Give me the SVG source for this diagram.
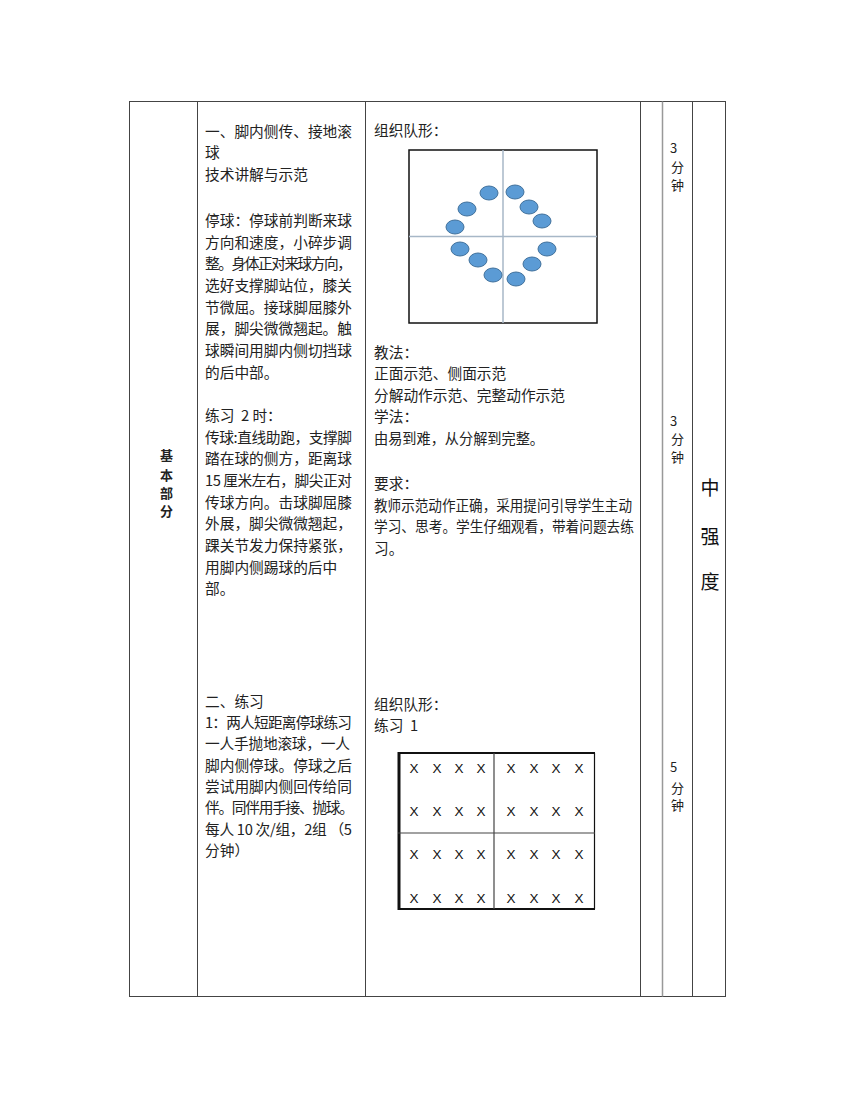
<svg xmlns="http://www.w3.org/2000/svg" width="860" height="1113" viewBox="0 0 860 1113">
<style>
.t{font-family:"Noto Sans CJK SC","Noto Sans",sans-serif;font-size:14.7px;fill:#222}
.s{font-family:"Noto Sans CJK SC","Noto Sans",sans-serif;font-size:13px;fill:#222}
.b{font-family:"Noto Sans CJK SC","Noto Sans",sans-serif;font-size:13px;font-weight:bold;fill:#222}
.big{font-family:"Noto Sans CJK SC","Noto Sans",sans-serif;font-size:19px;fill:#111}
.x{font-family:"Liberation Sans","DejaVu Sans",sans-serif;font-size:13.5px;fill:#111;text-anchor:middle}
.grid{stroke:#444;stroke-width:1;fill:none}
.ell{fill:#5b9bd5;stroke:#41719c;stroke-width:1}
</style>
<rect width="860" height="1113" fill="#fff"/>
<g id="table">
<rect class="grid" x="129.5" y="101.5" width="596" height="895"/>
<line class="grid" x1="197.5" y1="101.5" x2="197.5" y2="996.5"/>
<line class="grid" x1="365.5" y1="101.5" x2="365.5" y2="996.5"/>
<line class="grid" x1="640.5" y1="101.5" x2="640.5" y2="996.5"/>
<line x1="662.5" y1="101.5" x2="662.5" y2="996.5" stroke="#999" stroke-width="1.5"/>
<line class="grid" x1="692.5" y1="101.5" x2="692.5" y2="996.5"/>
</g>
<g id="section-label">
<text class="b" x="160" y="460">基</text>
<text class="b" x="160" y="480">本</text>
<text class="b" x="160" y="498">部</text>
<text class="b" x="160" y="516">分</text>
</g>
<g id="content-left">
<text class="t" x="205" y="136.5" textLength="147" lengthAdjust="spacing">一、脚内侧传、接地滚</text>
<text class="t" x="205" y="158">球</text>
<text class="t" x="205" y="180">技术讲解与示范</text>
<text class="t" x="205" y="226" textLength="147" lengthAdjust="spacing">停球：停球前判断来球</text>
<text class="t" x="205" y="247.6" textLength="147" lengthAdjust="spacing">方向和速度，小碎步调</text>
<text class="t" x="205" y="269.3" textLength="147" lengthAdjust="spacing">整。身体正对来球方向，</text>
<text class="t" x="205" y="291" textLength="147" lengthAdjust="spacing">选好支撑脚站位，膝关</text>
<text class="t" x="205" y="312.6" textLength="147" lengthAdjust="spacing">节微屈。接球脚屈膝外</text>
<text class="t" x="205" y="334.3" textLength="147" lengthAdjust="spacing">展，脚尖微微翘起。触</text>
<text class="t" x="205" y="356" textLength="147" lengthAdjust="spacing">球瞬间用脚内侧切挡球</text>
<text class="t" x="205" y="377.6">的后中部。</text>
<text class="t" x="205" y="421" xml:space="preserve">练习  2 时：</text>
<text class="t" x="205" y="442.6" textLength="147" lengthAdjust="spacing">传球:直线助跑，支撑脚</text>
<text class="t" x="205" y="464.3" textLength="147" lengthAdjust="spacing">踏在球的侧方，距离球</text>
<text class="t" x="205" y="486" textLength="147" lengthAdjust="spacing">15 厘米左右，脚尖正对</text>
<text class="t" x="205" y="507.6" textLength="147" lengthAdjust="spacing">传球方向。击球脚屈膝</text>
<text class="t" x="205" y="529.3">外展，脚尖微微翘起，</text>
<text class="t" x="205" y="551">踝关节发力保持紧张，</text>
<text class="t" x="205" y="572.6">用脚内侧踢球的后中</text>
<text class="t" x="205" y="594.3">部。</text>
</g>
<g id="content-left-2">
<text class="t" x="205" y="706.5">二、练习</text>
<text class="t" x="205" y="728" textLength="147" lengthAdjust="spacing">1：两人短距离停球练习</text>
<text class="t" x="205" y="749" textLength="145" lengthAdjust="spacing">一人手抛地滚球，一人</text>
<text class="t" x="205" y="770.5" textLength="147" lengthAdjust="spacing">脚内侧停球。停球之后</text>
<text class="t" x="205" y="792" textLength="147" lengthAdjust="spacing">尝试用脚内侧回传给同</text>
<text class="t" x="205" y="813" textLength="149" lengthAdjust="spacing">伴。同伴用手接、抛球。</text>
<text class="t" x="205" y="834.5" textLength="147" lengthAdjust="spacing">每人 10 次/组，2组 （5</text>
<text class="t" x="205" y="856">分钟）</text>
</g>
<g id="content-mid">
<text class="t" x="374" y="136">组织队形：</text>
<text class="t" x="374" y="358">教法：</text>
<text class="t" x="374" y="379">正面示范、侧面示范</text>
<text class="t" x="374" y="401">分解动作示范、完整动作示范</text>
<text class="t" x="374" y="422">学法：</text>
<text class="t" x="374" y="444" textLength="170" lengthAdjust="spacingAndGlyphs">由易到难，从分解到完整。</text>
<text class="t" x="374" y="489">要求：</text>
<text class="t" x="374" y="511" textLength="258" lengthAdjust="spacingAndGlyphs">教师示范动作正确，采用提问引导学生主动</text>
<text class="t" x="374" y="532" textLength="260" lengthAdjust="spacingAndGlyphs">学习、思考。学生仔细观看，带着问题去练</text>
<text class="t" x="374" y="554">习。</text>
</g>
<g id="formation-1">
<rect x="409" y="150" width="188" height="173" fill="#fff" stroke="#111" stroke-width="1.5"/>
<line x1="503" y1="150" x2="503" y2="323" stroke="#a7b7c7" stroke-width="1.5"/>
<line x1="409" y1="236.5" x2="597" y2="236.5" stroke="#a7b7c7" stroke-width="1.5"/>
<ellipse class="ell" cx="489" cy="193" rx="9" ry="7"/>
<ellipse class="ell" cx="515" cy="192" rx="9" ry="7"/>
<ellipse class="ell" cx="467" cy="209" rx="9" ry="7"/>
<ellipse class="ell" cx="529" cy="207" rx="9" ry="7"/>
<ellipse class="ell" cx="542" cy="221" rx="9" ry="7"/>
<ellipse class="ell" cx="455" cy="227" rx="9" ry="7"/>
<ellipse class="ell" cx="460" cy="249" rx="9" ry="7"/>
<ellipse class="ell" cx="547" cy="249" rx="9" ry="7"/>
<ellipse class="ell" cx="478" cy="260" rx="9" ry="7"/>
<ellipse class="ell" cx="532" cy="264" rx="9" ry="7"/>
<ellipse class="ell" cx="493" cy="275" rx="9" ry="7"/>
<ellipse class="ell" cx="516" cy="279" rx="9" ry="7"/>
</g>
<g id="content-mid-2">
<text class="t" x="374" y="709.5">组织队形：</text>
<text class="t" x="374" y="731" xml:space="preserve">练习  1</text>
</g>
<g id="formation-2">
<line x1="398" y1="753" x2="595" y2="753" stroke="#111" stroke-width="2"/>
<line x1="398" y1="909" x2="595" y2="909" stroke="#111" stroke-width="2"/>
<line x1="399" y1="752" x2="399" y2="910" stroke="#111" stroke-width="3"/>
<line x1="594.5" y1="753" x2="594.5" y2="909" stroke="#111" stroke-width="1.2"/>
<line x1="494" y1="753" x2="494" y2="909" stroke="#444" stroke-width="1.2"/>
<line x1="398" y1="833" x2="595" y2="833" stroke="#444" stroke-width="1.2"/>
<g>
<text class="x" x="414" y="773">X</text><text class="x" x="437" y="773">X</text><text class="x" x="459" y="773">X</text><text class="x" x="481" y="773">X</text>
<text class="x" x="511" y="773">X</text><text class="x" x="534" y="773">X</text><text class="x" x="556" y="773">X</text><text class="x" x="579" y="773">X</text>
<text class="x" x="414" y="816">X</text><text class="x" x="437" y="816">X</text><text class="x" x="459" y="816">X</text><text class="x" x="481" y="816">X</text>
<text class="x" x="511" y="816">X</text><text class="x" x="534" y="816">X</text><text class="x" x="556" y="816">X</text><text class="x" x="579" y="816">X</text>
<text class="x" x="414" y="859">X</text><text class="x" x="437" y="859">X</text><text class="x" x="459" y="859">X</text><text class="x" x="481" y="859">X</text>
<text class="x" x="511" y="859">X</text><text class="x" x="534" y="859">X</text><text class="x" x="556" y="859">X</text><text class="x" x="579" y="859">X</text>
<text class="x" x="414" y="903">X</text><text class="x" x="437" y="903">X</text><text class="x" x="459" y="903">X</text><text class="x" x="481" y="903">X</text>
<text class="x" x="511" y="903">X</text><text class="x" x="534" y="903">X</text><text class="x" x="556" y="903">X</text><text class="x" x="579" y="903">X</text>
</g>
</g>
<g id="time">
<text class="s" x="670" y="153">3</text>
<text class="s" x="671" y="172">分</text>
<text class="s" x="671" y="190">钟</text>
<text class="s" x="670" y="426">3</text>
<text class="s" x="671" y="444">分</text>
<text class="s" x="671" y="462">钟</text>
<text class="s" x="670" y="772">5</text>
<text class="s" x="671" y="793">分</text>
<text class="s" x="671" y="810">钟</text>
</g>
<g id="intensity">
<text class="big" x="700.5" y="495">中</text>
<text class="big" x="700.5" y="544">强</text>
<text class="big" x="700.5" y="589">度</text>
</g>
</svg>
